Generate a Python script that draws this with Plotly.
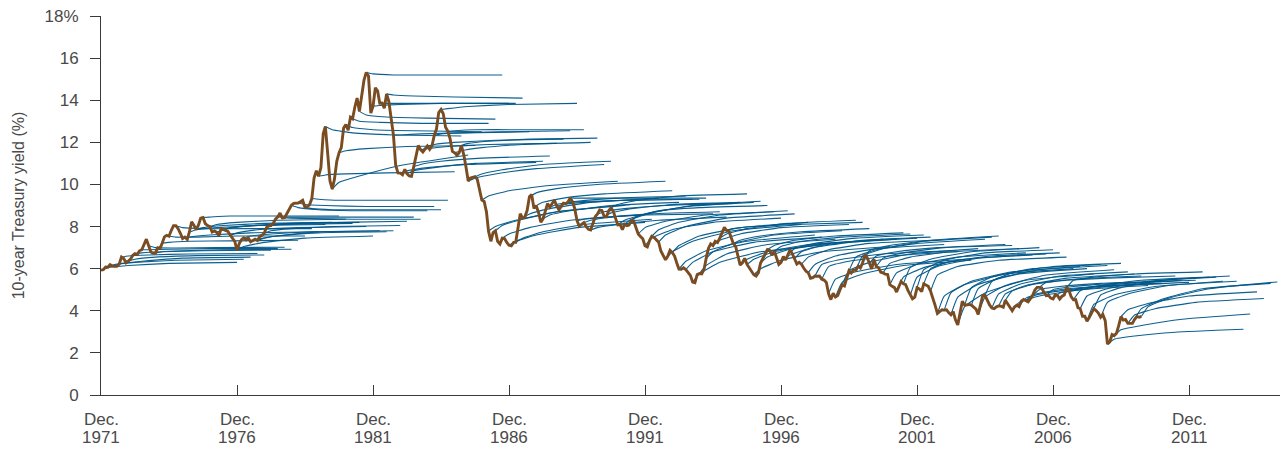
import pandas as pd
import plotly.graph_objects as go

# Monthly 10-year Treasury yield (%), Dec 1971 through Mar 2010
yield_start = "1971-12-01"
ten_year_yield = [
    5.93,
    5.95, 6.08, 6.07, 6.19, 6.13, 6.11, 6.11, 6.21, 6.55, 6.48, 6.28, 6.36,          # 1972
    6.46, 6.64, 6.71, 6.67, 6.85, 6.90, 7.13, 7.40, 7.09, 6.79, 6.73, 6.74,          # 1973
    6.99, 6.96, 7.21, 7.51, 7.58, 7.54, 7.81, 8.04, 8.04, 7.90, 7.68, 7.43,          # 1974
    7.50, 7.39, 7.73, 8.23, 8.06, 7.86, 8.06, 8.40, 8.43, 8.14, 8.05, 8.00,          # 1975
    7.74, 7.79, 7.73, 7.56, 7.90, 7.86, 7.83, 7.77, 7.59, 7.41, 7.29, 6.87,          # 1976
    7.21, 7.39, 7.46, 7.37, 7.46, 7.28, 7.33, 7.40, 7.34, 7.52, 7.58, 7.69,          # 1977
    7.96, 8.03, 8.04, 8.15, 8.35, 8.46, 8.64, 8.41, 8.42, 8.64, 8.81, 9.01,          # 1978
    9.10, 9.10, 9.12, 9.18, 9.25, 8.91, 8.95, 9.03, 9.33, 10.30, 10.65, 10.39,       # 1979
    10.80, 12.41, 12.75, 11.47, 10.18, 9.78, 10.25, 11.10, 11.51, 11.75, 12.68, 12.84,  # 1980
    12.57, 13.19, 13.12, 13.68, 14.10, 13.47, 14.28, 14.94, 15.32, 15.15, 13.39, 13.72,  # 1981
    14.59, 14.43, 13.86, 13.87, 13.62, 14.30, 13.95, 13.06, 12.34, 10.91, 10.55, 10.54,  # 1982
    10.46, 10.72, 10.51, 10.40, 10.38, 10.85, 11.38, 11.85, 11.65, 11.54, 11.69, 11.83,  # 1983
    11.67, 11.84, 12.32, 12.63, 13.41, 13.56, 13.36, 12.72, 12.52, 12.16, 11.57, 11.50,  # 1984
    11.38, 11.51, 11.86, 11.43, 10.85, 10.16, 10.31, 10.33, 10.37, 10.24, 9.78, 9.26,    # 1985
    9.19, 8.70, 7.78, 7.30, 7.71, 7.80, 7.30, 7.17, 7.45, 7.43, 7.25, 7.11,          # 1986
    7.08, 7.25, 7.25, 8.02, 8.61, 8.40, 8.45, 8.76, 9.42, 9.52, 8.86, 8.99,          # 1987
    8.67, 8.21, 8.37, 8.72, 9.09, 8.92, 9.06, 9.26, 8.98, 8.80, 8.96, 9.11,          # 1988
    9.09, 9.17, 9.36, 9.18, 8.86, 8.28, 8.02, 8.11, 8.19, 8.01, 7.87, 7.84,          # 1989
    8.21, 8.47, 8.59, 8.79, 8.76, 8.48, 8.47, 8.75, 8.89, 8.72, 8.39, 8.08,          # 1990
    8.09, 7.85, 8.11, 8.04, 8.07, 8.28, 8.27, 7.90, 7.65, 7.53, 7.42, 7.09,          # 1991
    7.03, 7.34, 7.54, 7.48, 7.39, 7.26, 6.84, 6.59, 6.42, 6.59, 6.87, 6.77,          # 1992
    6.60, 6.26, 5.98, 5.97, 6.04, 5.96, 5.81, 5.68, 5.36, 5.33, 5.72, 5.77,          # 1993
    5.75, 5.97, 6.48, 6.97, 7.18, 7.10, 7.30, 7.24, 7.46, 7.74, 7.96, 7.81,          # 1994
    7.78, 7.47, 7.20, 7.06, 6.63, 6.17, 6.28, 6.49, 6.20, 6.04, 5.93, 5.71,          # 1995
    5.65, 5.81, 6.27, 6.51, 6.74, 6.91, 6.87, 6.64, 6.83, 6.53, 6.20, 6.30,          # 1996
    6.58, 6.42, 6.69, 6.89, 6.71, 6.49, 6.22, 6.30, 6.21, 6.03, 5.88, 5.81,          # 1997
    5.54, 5.57, 5.65, 5.64, 5.65, 5.50, 5.46, 5.34, 4.81, 4.53, 4.83, 4.65,          # 1998
    4.72, 5.00, 5.23, 5.18, 5.54, 5.90, 5.79, 5.94, 5.92, 6.11, 6.03, 6.28,          # 1999
    6.66, 6.52, 6.26, 5.99, 6.44, 6.10, 6.05, 5.83, 5.80, 5.74, 5.72, 5.24,          # 2000
    5.16, 5.10, 4.89, 5.14, 5.39, 5.28, 5.24, 4.97, 4.73, 4.57, 4.65, 5.09,          # 2001
    5.04, 4.91, 5.28, 5.21, 5.16, 4.93, 4.65, 4.26, 3.87, 3.94, 4.05, 4.03,          # 2002
    4.05, 3.90, 3.81, 3.96, 3.57, 3.33, 3.98, 4.45, 4.27, 4.29, 4.30, 4.27,          # 2003
    4.15, 4.08, 3.83, 4.35, 4.72, 4.73, 4.50, 4.28, 4.13, 4.10, 4.19, 4.23,          # 2004
    4.22, 4.17, 4.50, 4.34, 4.14, 4.00, 4.18, 4.26, 4.20, 4.46, 4.54, 4.47,          # 2005
    4.42, 4.57, 4.72, 4.99, 5.11, 5.11, 5.09, 4.88, 4.72, 4.73, 4.60, 4.56,          # 2006
    4.76, 4.72, 4.56, 4.69, 4.75, 5.10, 5.00, 4.67, 4.52, 4.53, 4.15, 4.10,          # 2007
    3.74, 3.74, 3.51, 3.68, 3.88, 4.10, 4.01, 3.89, 3.69, 3.81, 3.53, 2.42,          # 2008
    2.52, 2.87, 2.82, 2.93, 3.29, 3.72, 3.56, 3.59, 3.40, 3.39, 3.40, 3.59,          # 2009
    3.73, 3.69, 3.73,                                                                # 2010
]

# Implied forward path of the 10-year yield from each quarter: values at
# +3 months, +1 year, +2.5 years and +5 years (start = yield that month)
horizon_months = [0, 3, 12, 30, 60]
forward_paths = {
    "1971-12": [6.05, 6.15, 6.25, 6.30],
    "1972-03": [6.20, 6.30, 6.40, 6.45],
    "1972-06": [6.25, 6.35, 6.50, 6.55],
    "1972-09": [6.60, 6.65, 6.70, 6.72],
    "1972-12": [6.45, 6.55, 6.62, 6.65],
    "1973-03": [6.75, 6.80, 6.85, 6.88],
    "1973-06": [6.90, 6.92, 6.95, 6.95],
    "1973-09": [7.00, 6.98, 7.00, 7.02],
    "1973-12": [6.80, 6.85, 6.90, 6.92],
    "1974-03": [7.25, 7.30, 7.32, 7.35],
    "1974-06": [7.50, 7.50, 7.55, 7.55],
    "1974-09": [7.95, 7.90, 7.90, 7.90],
    "1974-12": [7.50, 7.60, 7.70, 7.75],
    "1975-03": [7.85, 7.95, 8.05, 8.10],
    "1975-06": [7.95, 8.05, 8.15, 8.20],
    "1975-09": [8.45, 8.50, 8.50, 8.50],
    "1975-12": [8.10, 8.20, 8.30, 8.35],
    "1976-03": [7.85, 8.00, 8.10, 8.15],
    "1976-06": [7.95, 8.05, 8.15, 8.20],
    "1976-09": [7.70, 7.85, 7.95, 8.00],
    "1976-12": [7.05, 7.25, 7.45, 7.55],
    "1977-03": [7.55, 7.65, 7.75, 7.80],
    "1977-06": [7.40, 7.55, 7.70, 7.75],
    "1977-09": [7.45, 7.60, 7.75, 7.80],
    "1977-12": [7.80, 7.90, 8.00, 8.05],
    "1978-03": [8.10, 8.15, 8.20, 8.25],
    "1978-06": [8.45, 8.45, 8.45, 8.45],
    "1978-09": [8.40, 8.38, 8.35, 8.35],
    "1978-12": [8.90, 8.80, 8.75, 8.75],
    "1979-03": [9.05, 9.00, 8.95, 8.95],
    "1979-06": [8.85, 8.80, 8.80, 8.80],
    "1979-09": [9.30, 9.25, 9.25, 9.25],
    "1979-12": [10.45, 10.50, 10.55, 10.60],
    "1980-03": [12.60, 12.45, 12.35, 12.30],
    "1980-06": [10.10, 10.40, 10.90, 11.40],
    "1980-09": [11.60, 11.70, 11.80, 11.85],
    "1980-12": [12.70, 12.60, 12.55, 12.50],
    "1981-03": [13.00, 12.95, 12.90, 12.90],
    "1981-06": [13.30, 13.20, 13.15, 13.10],
    "1981-09": [15.25, 15.20, 15.20, 15.20],
    "1981-12": [13.75, 13.80, 13.85, 13.85],
    "1982-03": [13.85, 13.85, 13.85, 13.85],
    "1982-06": [14.25, 14.20, 14.15, 14.10],
    "1982-09": [12.35, 12.40, 12.45, 12.50],
    "1982-12": [10.65, 10.80, 10.95, 11.05],
    "1983-03": [10.65, 10.80, 11.00, 11.10],
    "1983-06": [10.95, 11.10, 11.25, 11.35],
    "1983-09": [11.70, 11.80, 11.90, 11.95],
    "1983-12": [11.90, 12.00, 12.10, 12.15],
    "1984-03": [12.40, 12.45, 12.50, 12.55],
    "1984-06": [13.60, 13.70, 13.80, 13.85],
    "1984-09": [12.55, 12.60, 12.60, 12.60],
    "1984-12": [11.60, 11.75, 11.90, 12.00],
    "1985-03": [11.95, 12.05, 12.15, 12.20],
    "1985-06": [10.30, 10.50, 10.75, 10.95],
    "1985-09": [10.50, 10.70, 10.95, 11.10],
    "1985-12": [9.45, 9.70, 9.95, 10.15],
    "1986-03": [8.00, 8.30, 8.70, 9.00],
    "1986-06": [8.05, 8.35, 8.75, 9.05],
    "1986-09": [7.65, 7.95, 8.30, 8.55],
    "1986-12": [7.30, 7.60, 7.95, 8.20],
    "1987-03": [7.45, 7.75, 8.10, 8.35],
    "1987-06": [8.60, 8.85, 9.15, 9.35],
    "1987-09": [9.60, 9.80, 10.00, 10.15],
    "1987-12": [9.15, 9.35, 9.55, 9.70],
    "1988-03": [8.55, 8.75, 9.00, 9.15],
    "1988-06": [9.05, 9.20, 9.35, 9.45],
    "1988-09": [9.05, 9.15, 9.25, 9.30],
    "1988-12": [9.15, 9.20, 9.25, 9.30],
    "1989-03": [9.35, 9.35, 9.35, 9.35],
    "1989-06": [8.35, 8.45, 8.55, 8.60],
    "1989-09": [8.30, 8.45, 8.60, 8.70],
    "1989-12": [7.95, 8.10, 8.30, 8.45],
    "1990-03": [8.70, 8.85, 9.00, 9.10],
    "1990-06": [8.65, 8.85, 9.05, 9.15],
    "1990-09": [9.05, 9.25, 9.45, 9.55],
    "1990-12": [8.30, 8.60, 8.95, 9.15],
    "1991-03": [8.35, 8.65, 9.00, 9.20],
    "1991-06": [8.50, 8.75, 8.90, 9.00],
    "1991-09": [7.95, 8.25, 8.55, 8.70],
    "1991-12": [7.45, 7.85, 8.20, 8.40],
    "1992-03": [7.85, 8.20, 8.55, 8.75],
    "1992-06": [7.60, 8.00, 8.40, 8.60],
    "1992-09": [6.80, 7.30, 7.80, 8.10],
    "1992-12": [7.10, 7.55, 7.95, 8.20],
    "1993-03": [6.35, 6.85, 7.30, 7.60],
    "1993-06": [6.30, 6.80, 7.25, 7.50],
    "1993-09": [5.75, 6.30, 6.80, 7.15],
    "1993-12": [6.15, 6.70, 7.15, 7.40],
    "1994-03": [6.80, 7.20, 7.60, 7.80],
    "1994-06": [7.35, 7.65, 7.95, 8.10],
    "1994-09": [7.65, 7.90, 8.15, 8.30],
    "1994-12": [7.90, 8.00, 8.10, 8.20],
    "1995-03": [7.35, 7.55, 7.75, 7.90],
    "1995-06": [6.45, 6.80, 7.15, 7.35],
    "1995-09": [6.45, 6.80, 7.15, 7.40],
    "1995-12": [6.00, 6.40, 6.80, 7.05],
    "1996-03": [6.55, 6.90, 7.20, 7.40],
    "1996-06": [7.10, 7.35, 7.55, 7.70],
    "1996-09": [7.05, 7.30, 7.50, 7.65],
    "1996-12": [6.60, 6.95, 7.25, 7.45],
    "1997-03": [6.95, 7.20, 7.45, 7.60],
    "1997-06": [6.80, 7.10, 7.35, 7.50],
    "1997-09": [6.55, 6.90, 7.20, 7.35],
    "1997-12": [6.20, 6.60, 6.95, 7.15],
    "1998-03": [6.20, 6.45, 6.70, 6.85],
    "1998-06": [6.10, 6.35, 6.60, 6.80],
    "1998-09": [5.50, 5.85, 6.20, 6.45],
    "1998-12": [5.35, 5.75, 6.15, 6.40],
    "1999-03": [5.90, 6.30, 6.70, 6.95],
    "1999-06": [6.55, 6.90, 7.20, 7.40],
    "1999-09": [6.60, 6.95, 7.30, 7.50],
    "1999-12": [6.85, 7.10, 7.35, 7.55],
    "2000-03": [6.60, 6.80, 7.00, 7.15],
    "2000-06": [6.50, 6.75, 7.00, 7.10],
    "2000-09": [6.25, 6.55, 6.80, 6.95],
    "2000-12": [5.80, 6.20, 6.55, 6.75],
    "2001-03": [5.60, 6.05, 6.45, 6.65],
    "2001-06": [6.05, 6.45, 6.80, 7.00],
    "2001-09": [5.60, 6.10, 6.50, 6.70],
    "2001-12": [5.95, 6.40, 6.75, 6.90],
    "2002-03": [6.00, 6.35, 6.60, 6.75],
    "2002-06": [5.70, 6.10, 6.40, 6.55],
    "2002-09": [4.70, 5.25, 5.75, 6.00],
    "2002-12": [4.85, 5.40, 5.85, 6.10],
    "2003-03": [4.65, 5.25, 5.75, 6.00],
    "2003-06": [4.20, 4.85, 5.45, 5.75],
    "2003-09": [5.10, 5.60, 6.00, 6.20],
    "2003-12": [5.05, 5.55, 5.95, 6.15],
    "2004-03": [4.65, 5.20, 5.70, 5.95],
    "2004-06": [5.40, 5.80, 6.10, 6.25],
    "2004-09": [4.80, 5.25, 5.65, 5.85],
    "2004-12": [4.80, 5.20, 5.55, 5.75],
    "2005-03": [4.95, 5.25, 5.50, 5.65],
    "2005-06": [4.40, 4.70, 5.00, 5.20],
    "2005-09": [4.60, 4.85, 5.10, 5.30],
    "2005-12": [4.75, 4.95, 5.15, 5.30],
    "2006-03": [5.00, 5.15, 5.30, 5.40],
    "2006-06": [5.35, 5.45, 5.55, 5.65],
    "2006-09": [5.00, 5.15, 5.30, 5.45],
    "2006-12": [4.85, 5.00, 5.20, 5.35],
    "2007-03": [4.90, 5.10, 5.30, 5.45],
    "2007-06": [5.45, 5.60, 5.75, 5.85],
    "2007-09": [4.95, 5.20, 5.45, 5.60],
    "2007-12": [4.70, 5.05, 5.40, 5.60],
    "2008-03": [4.30, 4.75, 5.15, 5.40],
    "2008-06": [4.75, 5.10, 5.45, 5.65],
    "2008-09": [4.40, 4.80, 5.20, 5.40],
    "2008-12": [2.65, 2.80, 2.98, 3.12],
    "2009-03": [3.10, 3.30, 3.60, 3.85],
    "2009-06": [4.05, 4.35, 4.70, 4.90],
    "2009-09": [3.80, 4.10, 4.40, 4.58],
    "2009-12": [4.10, 4.55, 5.05, 5.30],
    "2010-03": [4.20, 4.60, 5.05, 5.37],
}

tick_years = [1971, 1976, 1981, 1986, 1991, 1996, 2001, 2006, 2011]
y_ticks = [0, 2, 4, 6, 8, 10, 12, 14, 16, 18]
y_tick_text = ["0", "2", "4", "6", "8", "10", "12", "14", "16", "18%"]

BROWN = "#7A4C22"
BLUE = "#00588A"
TEXT = "#4a4a4a"
AXIS = "#3a3a3a"
FONT = "Liberation Sans, Arial, sans-serif"

yield_dates = pd.date_range(yield_start, periods=len(ten_year_yield), freq="MS")
yield_by_month = dict(zip(yield_dates.strftime("%Y-%m"), ten_year_yield))

fig = go.Figure()

for start, path in forward_paths.items():
    t0 = pd.Timestamp(start + "-01")
    xs = [t0 + pd.DateOffset(months=m) for m in horizon_months]
    ys = [yield_by_month[start]] + path
    fig.add_trace(go.Scatter(
        x=xs, y=ys, mode="lines",
        line=dict(color=BLUE, width=1.1, shape="spline", smoothing=0.4),
        opacity=0.95, hoverinfo="skip", showlegend=False,
    ))

fig.add_trace(go.Scatter(
    x=yield_dates, y=ten_year_yield, mode="lines",
    line=dict(color=BROWN, width=2.9),
    showlegend=False, name="10-year Treasury yield",
))

# Two-line date labels under each x tick ("Dec." over the year)
for y in tick_years:
    tick_x = f"{y}-12-01"
    fig.add_annotation(x=tick_x, y=0, xref="x", yref="paper", text="Dec.",
                       showarrow=False, yanchor="middle", yshift=-24,
                       font=dict(family=FONT, size=17, color=TEXT))
    fig.add_annotation(x=tick_x, y=0, xref="x", yref="paper", text=str(y),
                       showarrow=False, yanchor="middle", yshift=-42,
                       font=dict(family=FONT, size=17, color=TEXT))

fig.update_layout(
    width=1283, height=451,
    margin=dict(l=101, r=3, t=16, b=56),
    paper_bgcolor="white", plot_bgcolor="white",
    font=dict(family=FONT, size=17, color=TEXT),
)

fig.update_xaxes(
    type="date",
    range=["1971-12-01", "2015-04-06"],
    tickvals=[f"{y}-12-01" for y in tick_years],
    showticklabels=False,
    ticks="inside", ticklen=10, tickcolor=AXIS, tickwidth=1,
    showline=True, linecolor=AXIS, linewidth=1,
    showgrid=False, zeroline=False, automargin=False,
)

fig.update_yaxes(
    range=[0, 18],
    tickvals=y_ticks, ticktext=y_tick_text,
    ticks="outside", ticklen=10, tickcolor=AXIS, tickwidth=1,
    showline=True, linecolor=AXIS, linewidth=1,
    showgrid=False, zeroline=False, automargin=False,
    ticklabelstandoff=8,
    tickfont=dict(size=17, color=TEXT),
    title=dict(text="10-year Treasury yield (%)", font=dict(size=16, color=TEXT), standoff=15),
)

fig.write_html("out.html")
